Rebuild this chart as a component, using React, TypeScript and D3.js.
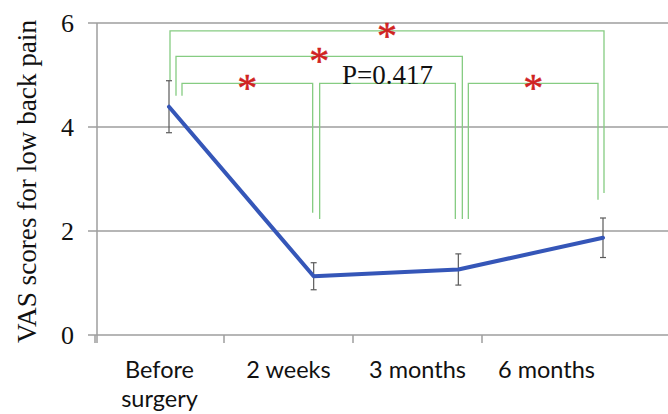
import React from 'react';
import * as d3 from 'd3';

// timepoints and VAS means / SD
const categories = ['Before surgery', '2 weeks', '3 months', '6 months'];
const vasMean = [4.39, 1.13, 1.26, 1.87];
const vasErr = [0.5, 0.26, 0.3, 0.38];
const yTicks = [0, 2, 4, 6];

// significance brackets: group indexes, bracket level, bottom of each leg (in VAS units)
const comparisons = [
  { a: 0, b: 3, level: 5.85, legA: 4.9, legB: 2.73, dA: 1, dB: 1, label: '*' },
  { a: 0, b: 2, level: 5.36, legA: 4.6, legB: 2.23, dA: 7, dB: 4, label: '*' },
  { a: 0, b: 1, level: 4.84, legA: 4.6, legB: 2.35, dA: 13, dB: -1, label: '*' },
  { a: 1, b: 2, level: 4.84, legA: 2.23, legB: 2.23, dA: 6, dB: -3, label: 'P=0.417' },
  { a: 2, b: 3, level: 4.84, legA: 2.23, legB: 2.6, dA: 10, dB: -5, label: '*' },
];

const W = 668;
const H = 414;

export default function App() {
  const y = d3.scaleLinear().domain([0, 6]).range([335, 23]);
  const xBand = d3.scaleBand().domain(categories).range([95, 611]);
  const xPt = d3.scalePoint().domain(categories).range([169, 603]);

  const line = d3.line<number>()
    .x((_, i) => xPt(categories[i])!)
    .y(d => y(d));

  const grid = '#9e9e9e';
  const green = '#86cc82';

  return (
    <svg width={W} height={H} style={{ position: 'absolute', left: 0, top: 0, background: '#fff' }}>
      {/* gridlines */}
      {yTicks.map(t => (
        <line key={t} x1={88} x2={W} y1={y(t)} y2={y(t)} stroke={grid} strokeWidth={1.5} />
      ))}
      {/* y axis */}
      <line x1={97} x2={97} y1={y(6)} y2={343} stroke={grid} strokeWidth={1.5} />
      {/* x ticks */}
      {categories.map(c => (
        <line key={c} x1={xBand(c)!} x2={xBand(c)!} y1={y(0)} y2={343} stroke={grid} strokeWidth={1.5} />
      ))}

      {/* y tick labels */}
      {yTicks.map(t => (
        <text key={t} x={74} y={y(t) + 9} textAnchor="end" fontFamily="Liberation Serif" fontSize={26} fill="#111">
          {t}
        </text>
      ))}
      <text
        transform={`translate(36, ${(20 + 343) / 2}) rotate(-90)`}
        textAnchor="middle"
        fontFamily="Liberation Serif"
        fontSize={28}
        textLength={323}
        lengthAdjust="spacingAndGlyphs"
        fill="#111"
      >
        VAS scores for low back pain
      </text>

      {/* x labels */}
      {categories.map(c => {
        const cx = xBand(c)! + xBand.bandwidth() / 2;
        const words = c === 'Before surgery' ? ['Before', 'surgery'] : [c];
        return (
          <text key={c} x={cx} y={378} textAnchor="middle" fontFamily="Lato" fontSize={23.5} fill="#111">
            {words.map((w, i) => (
              <tspan key={w} x={cx} dy={i === 0 ? 0 : 29}>{w}</tspan>
            ))}
          </text>
        );
      })}

      {/* brackets */}
      {comparisons.map((c, i) => {
        const xa = xPt(categories[c.a])! + c.dA;
        const xb = xPt(categories[c.b])! + c.dB;
        const ly = y(c.level);
        const mid = (xa + xb) / 2;
        return (
          <g key={i}>
            <path
              d={`M${xa},${y(c.legA)}V${ly}H${xb}V${y(c.legB)}`}
              fill="none"
              stroke={green}
              strokeWidth={1.3}
            />
            {c.label === '*' ? (
              <text x={mid} y={ly + 18} textAnchor="middle" fontFamily="Liberation Serif" fontSize={40}
                fill="#d02222" stroke="#d02222" strokeWidth={0.5}>
                *
              </text>
            ) : (
              <text x={mid} y={ly + 1} textAnchor="middle" fontFamily="Liberation Serif" fontSize={27} fill="#111">
                {c.label}
              </text>
            )}
          </g>
        );
      })}

      {/* error bars */}
      {vasMean.map((m, i) => {
        const cx = xPt(categories[i])!;
        return (
          <g key={i} stroke="#5a5a5a" strokeWidth={1.2}>
            <line x1={cx} x2={cx} y1={y(m + vasErr[i])} y2={y(m - vasErr[i])} />
            <line x1={cx - 3} x2={cx + 3} y1={y(m + vasErr[i])} y2={y(m + vasErr[i])} />
            <line x1={cx - 3} x2={cx + 3} y1={y(m - vasErr[i])} y2={y(m - vasErr[i])} />
          </g>
        );
      })}

      {/* mean line */}
      <path d={line(vasMean)!} fill="none" stroke="#3556b8" strokeWidth={4} strokeLinejoin="round" strokeLinecap="round" />
    </svg>
  );
}
